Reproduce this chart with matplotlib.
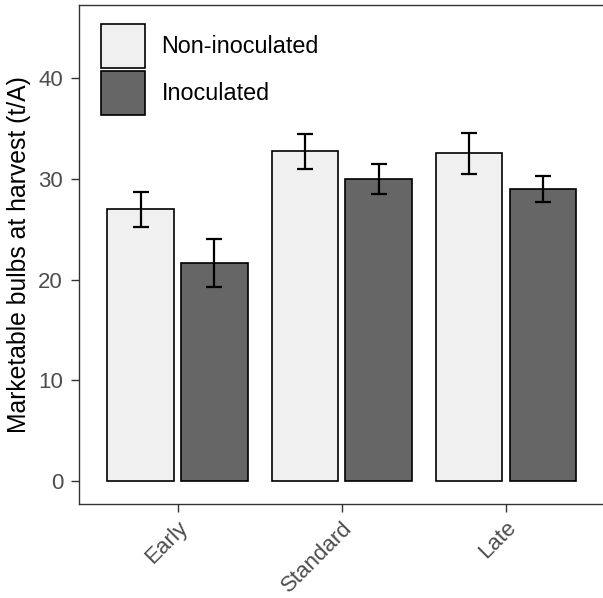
import numpy as np
import matplotlib
matplotlib.use("Agg")
from matplotlib import pyplot as plt

# data
timing = ["Early", "Standard", "Late"]
groups = ["Non-inoculated", "Inoculated"]
non_inoc = [26.95, 32.7, 32.5]
non_inoc_se = [1.7, 1.7, 2.0]
inoc = [21.65, 30.0, 28.95]
inoc_se = [2.35, 1.5, 1.3]
yticks = [0, 10, 20, 30, 40]

# style
fill = ["#F0F0F0", "#666666"]
grey30 = "#4D4D4D"
grey20 = "#333333"
plt.rcParams["font.family"] = ["Liberation Sans", "DejaVu Sans"]

fig = plt.figure(figsize=(6.03, 5.98), dpi=100)
ax = fig.add_axes([79 / 603, 94 / 598, 525.5 / 603, 499.3 / 598])

x = np.arange(len(timing)) + 1
dodge = 0.225
width = 0.405

for i, (vals, se) in enumerate([(non_inoc, non_inoc_se), (inoc, inoc_se)]):
    xs = x + (i * 2 - 1) * dodge
    ax.bar(xs, vals, width=width, color=fill[i], edgecolor="black",
           linewidth=1.2, label=groups[i], zorder=2)
    ax.errorbar(xs, vals, yerr=se, fmt="none", ecolor="black",
                elinewidth=1.6, capsize=6, capthick=1.6, zorder=3)

ax.set_xlim(0.4, 3.6)
ax.set_ylim(-2.25, 47.25)
ax.set_xticks(x)
ax.set_xticklabels(timing, rotation=45, ha="right", va="top",
                   rotation_mode="anchor")
ax.set_yticks(yticks)
ax.tick_params(axis="both", colors=grey20, labelcolor=grey30,
               labelsize=16, length=5.5, width=1.0, pad=6)
ax.tick_params(axis="x", labelsize=16, pad=4)
ax.set_ylabel("Marketable bulbs at harvest (t/A)", fontsize=17.8,
              color="black", labelpad=5.5)

for s in ax.spines.values():
    s.set_color(grey20)
    s.set_linewidth(1.0)

ax.legend(loc="upper left", bbox_to_anchor=(22 / 525.5, 1 - 19.3 / 499.3),
          frameon=False, fontsize=16.8, borderpad=0, borderaxespad=0,
          handlelength=1.89, handleheight=2.53, labelspacing=0.13,
          handletextpad=0.7)

fig.savefig("out.png", dpi=100)
